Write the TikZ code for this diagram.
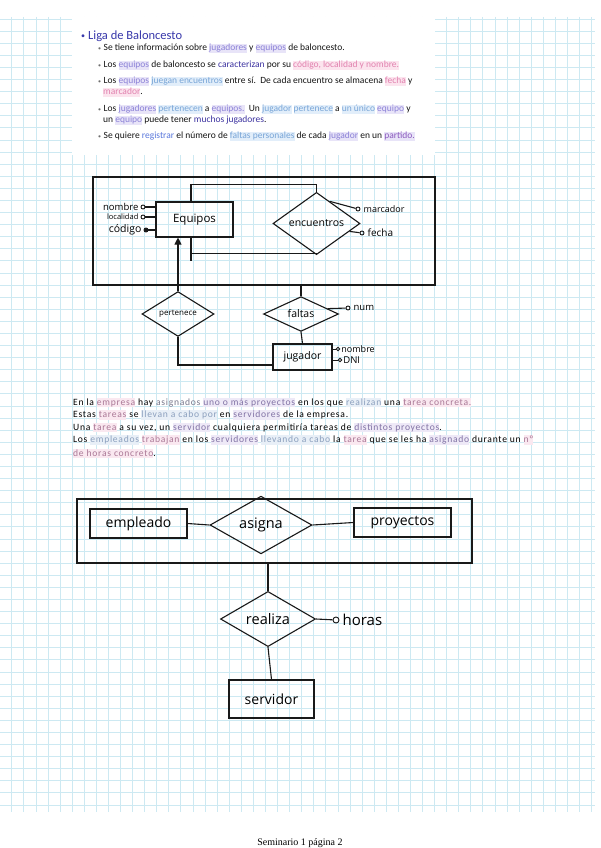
\documentclass[tikz,border=0pt]{standalone}
\usepackage{fontspec}
\setmainfont{Carlito}
\newfontfamily\handf{Open Sans}
\newfontfamily\timesf{Liberation Serif}
\usetikzlibrary{shapes.geometric,arrows.meta,calc}
\definecolor{gridc}{RGB}{205,233,242}
\definecolor{ink}{RGB}{25,25,25}
\definecolor{titleblue}{RGB}{55,55,170}
\definecolor{slidetext}{RGB}{20,20,20}
\definecolor{bulgray}{RGB}{110,110,110}
\definecolor{hlLav}{RGB}{232,228,248}
\definecolor{txLav}{RGB}{140,130,215}
\definecolor{hlPink}{RGB}{252,228,238}
\definecolor{txPink}{RGB}{225,130,175}
\definecolor{hlBlue}{RGB}{226,238,250}
\definecolor{txBlue}{RGB}{120,165,215}
\definecolor{txDark}{RGB}{60,50,160}
\definecolor{txReg}{RGB}{90,120,220}
\definecolor{txPurp}{RGB}{140,90,190}
\definecolor{pHlPink}{RGB}{250,232,240}
\definecolor{pTxPink}{RGB}{170,120,150}
\definecolor{pHlLav}{RGB}{238,233,247}
\definecolor{pTxLav}{RGB}{130,115,165}
\definecolor{pHlBlue}{RGB}{232,239,247}
\definecolor{pTxBlue}{RGB}{140,160,190}
\definecolor{pTxGray}{RGB}{120,120,140}
\newcommand\hq[3]{{\setlength{\fboxsep}{0pt}\colorbox{#1}{\textcolor{#2}{\vrule height 0.78em depth 0.22em width 0pt #3}}}}
\newcommand\hsz[1]{\handf\fontsize{#1}{#1}\selectfont}
\newcommand\sbul{{\color{bulgray}\fontsize{6}{6}\selectfont\raisebox{0.5pt}{\textbullet}}\hspace{2.5pt}}
\tikzset{
  ent/.style={draw=ink, line width=1.1pt, inner sep=0pt},
  rel/.style={diamond, draw=ink, line width=1.1pt, inner sep=0pt},
  attc/.style={circle, draw=ink, line width=0.9pt, inner sep=0pt, minimum size=4pt},
  attf/.style={circle, draw=ink, fill=ink, line width=0.9pt, inner sep=0pt, minimum size=4pt},
  conn/.style={draw=ink, line width=1.1pt},
  slidel/.style={anchor=base west, inner sep=0pt, text=slidetext, font=\fontsize{9.5}{10}\selectfont},
  parl/.style={anchor=base west, inner sep=0pt, text=black, font=\fontsize{9.6}{10}\selectfont\addfontfeatures{LetterSpace=7.5}},
}
\begin{document}
\begin{tikzpicture}[x=1pt,y=-1pt]
\useasboundingbox (0,0) rectangle (600,848);
\fill[white] (0,0) rectangle (600,848);
% grid
\foreach \i in {0,...,48} \draw[gridc, line width=0.7pt] (11.7+12.08*\i,17) -- (11.7+12.08*\i,812);
\foreach \j in {0,...,65} \draw[gridc, line width=0.7pt] (0,19+12.09*\j) -- (595,19+12.09*\j);
% slide
\fill[white] (72,17) rectangle (435,155);
\node[anchor=base west, inner sep=0pt, text=titleblue, font=\fontsize{12.5}{14}\selectfont] (title) at (81,40) {{\fontsize{8}{8}\selectfont\raisebox{1pt}{\textbullet}}\hspace{3pt}Liga de Baloncesto};
\node[slidel] (s1) at (98,51) {\sbul Se tiene información sobre \hq{hlLav}{txLav}{jugadores} y \hq{hlLav}{txLav}{equipos} de baloncesto.};
\node[slidel] (s2) at (98,68) {\sbul Los \hq{hlLav}{txLav}{equipos} de baloncesto se \textcolor{txDark}{caracterizan} por su \hq{hlPink}{txPink}{código, localidad y nombre.}};
\node[slidel] (s3) at (98,84) {\sbul Los \hq{hlLav}{txLav}{equipos} \hq{hlBlue}{txBlue}{juegan encuentros} entre sí.\ \ De cada encuentro se almacena \hq{hlPink}{txPink}{fecha} y};
\node[slidel] (s4) at (103,95) {\hq{hlPink}{txPink}{marcador}.};
\node[slidel] (s5) at (98,112) {\sbul Los \hq{hlLav}{txLav}{jugadores} \hq{hlBlue}{txBlue}{pertenecen} a \hq{hlLav}{txLav}{equipos.}\ \ Un \hq{hlBlue}{txBlue}{jugador} \hq{hlBlue}{txBlue}{pertenece} a \hq{hlBlue}{txBlue}{un único} \hq{hlLav}{txLav}{equipo} y};
\node[slidel] (s6) at (103,123) {un \hq{hlLav}{txLav}{equipo} puede tener \textcolor{txDark}{muchos jugadores}.};
\node[slidel] (s7) at (98,139) {\sbul Se quiere \textcolor{txReg}{registrar} el número de \hq{hlBlue}{txBlue}{faltas personales} de cada \hq{hlLav}{txLav}{jugador} en un \hq{hlLav}{txPurp}{partido.}};
% diagram 1
\node[draw=ink, line width=1.1pt, minimum width=342pt, minimum height=108pt, inner sep=0pt] (agg1) at (264,231) {};
\node[ent, minimum width=77pt, minimum height=35pt, font=\hsz{11.5}] (equipos) at (194.5,219.5) {Equipos};
\node[rel, minimum width=87pt, minimum height=35pt, font=\hsz{10.5}] (enc) at (316.5,223.5) {encuentros};
\draw[conn] ([xshift=-3.5pt]equipos.north) -- ++(0,-17) -| (enc.north);
\draw[conn] ([xshift=-3.5pt]equipos.south) -- ++(0,16) -| (enc.south);
\draw[conn] ([xshift=-3.5pt]equipos.south) -- ++(0,23);
\node[attc] (anom) at (143,207) {};
\node[attc] (aloc) at (143,217) {};
\node[attf] (acod) at (146,230) {};
\draw[conn] (anom) -- (anom -| equipos.west);
\draw[conn] (aloc) -- (aloc -| equipos.west);
\draw[conn] (acod) -- (acod -| equipos.west);
\node[anchor=east, inner sep=0pt, font=\hsz{9.5}] (lnom) at ([xshift=-2pt]anom.west) {nombre};
\node[anchor=east, inner sep=0pt, font=\hsz{7.5}] (lloc) at ([xshift=-2pt]aloc.west) {localidad};
\node[anchor=east, inner sep=0pt, font=\hsz{10.5}] (lcod) at ([xshift=-2pt]acod.west) {código};
\node[attc] (amar) at (358,209) {};
\node[attc] (afec) at (362,233) {};
\draw[conn] ($(enc.north)!0.3!(enc.east)$) -- (amar);
\draw[conn] ($(enc.east)!0.25!(enc.south)$) -- (afec);
\node[anchor=west, inner sep=0pt, font=\hsz{9}] (lmar) at ([xshift=3pt]amar.east) {marcador};
\node[anchor=west, inner sep=0pt, font=\hsz{10}] (lfec) at ([xshift=3pt]afec.east) {fecha};
\node[rel, minimum width=72pt, minimum height=28pt, font=\hsz{8}] (pert) at (178,314) {pertenece};
\node[rel, minimum width=75pt, minimum height=28pt, font=\hsz{10.5}] (faltas) at (301,314) {faltas};
\node[ent, minimum width=59pt, minimum height=26pt, font=\hsz{10.5}] (jug) at (302.5,357) {jugador};
\draw[conn, -{Triangle[length=7pt,width=7pt]}] (pert.north) -- (pert.north |- equipos.south);
\draw[conn] (agg1.south -| faltas.north) -- (faltas.north);
\draw[conn] (faltas.south) -- (jug.north);
\draw[conn] (pert.south) |- ([yshift=-8pt]jug.west);
\node[attc] (anum) at (348,308) {};
\draw[conn] ($(faltas.north)!0.7!(faltas.east)$) -- (anum);
\node[anchor=west, inner sep=0pt, font=\hsz{9.5}] (lnum) at ([xshift=3pt]anum.east) {num};
\node[attc, minimum size=3.5pt] (ajn) at (338,349) {};
\node[attc, minimum size=3.5pt] (ajd) at (340,360) {};
\draw[conn, line width=0.9pt] (ajn) -- (ajn -| jug.east);
\draw[conn, line width=0.9pt] (ajd) -- (ajd -| jug.east);
\node[anchor=west, inner sep=0pt, font=\hsz{9}] (ljn) at ([xshift=1pt]ajn.east) {nombre};
\node[anchor=west, inner sep=0pt, font=\hsz{9.5}] (ljd) at ([xshift=1pt]ajd.east) {DNI};
% paragraph
\node[parl] (p1) at (73,405) {En la \hq{pHlPink}{pTxPink}{empresa} hay \textcolor{pTxGray}{asignados} \hq{pHlLav}{pTxLav}{uno o más proyectos} en los que \hq{pHlBlue}{pTxBlue}{realizan} una \hq{pHlPink}{pTxPink}{tarea concreta.}};
\node[parl] (p2) at (73,417.5) {Estas \hq{pHlPink}{pTxPink}{tareas} se \hq{pHlBlue}{pTxBlue}{llevan a cabo por} en \hq{pHlLav}{pTxLav}{servidores} de la empresa.};
\node[parl] (p3) at (73,430) {Una \hq{pHlPink}{pTxPink}{tarea} a su vez, un \hq{pHlLav}{pTxLav}{servidor} cualquiera permitiría tareas de \hq{pHlLav}{pTxLav}{distintos proyectos}.};
\node[parl] (p4) at (73,442.5) {Los \hq{pHlBlue}{pTxBlue}{empleados} \hq{pHlPink}{pTxPink}{trabajan} en los \hq{pHlLav}{pTxLav}{servidores} \hq{pHlBlue}{pTxBlue}{llevando a cabo} la \hq{pHlPink}{pTxPink}{tarea} que se les ha \hq{pHlLav}{pTxLav}{asignado} durante un \hq{pHlPink}{pTxPink}{nº}};
\node[parl] (p5) at (73,456) {\hq{pHlPink}{pTxPink}{de horas concreto}.};
% diagram 2
\node[draw=ink, line width=1.1pt, minimum width=395pt, minimum height=64pt, inner sep=0pt] (agg2) at (274.5,531) {};
\node[ent, minimum width=97pt, minimum height=29pt, font=\hsz{14}] (emp) at (138.5,523.5) {empleado};
\node[rel, minimum width=102pt, minimum height=42pt, font=\hsz{14.5}] (asig) at (261,525) {asigna};
\node[ent, minimum width=97pt, minimum height=29pt, font=\hsz{14}] (proy) at (402.5,522.5) {proyectos};
\draw[conn] (emp.east) -- (asig.west);
\draw[conn] (asig.east) -- (proy.west);
\node[rel, minimum width=95pt, minimum height=48pt, font=\hsz{14.5}] (real) at (268,619) {realiza};
\draw[conn] (agg2.south -| real.north) -- (real.north);
\node[attc, minimum size=6pt] (ahor) at (336,620) {};
\draw[conn] (real.east) -- (ahor);
\node[anchor=west, inner sep=0pt, font=\hsz{15}] (lhor) at ([xshift=3pt]ahor.east) {horas};
\node[ent, minimum width=85pt, minimum height=38pt, font=\hsz{14}] (serv) at (271.5,699) {servidor};
\draw[conn] (real.south) -- (serv.north);
% footer
\node[anchor=base, inner sep=0pt, font=\timesf\fontsize{10}{11}\selectfont] (foot) at (300,845) {Seminario 1 página 2};
\end{tikzpicture}
\end{document}
